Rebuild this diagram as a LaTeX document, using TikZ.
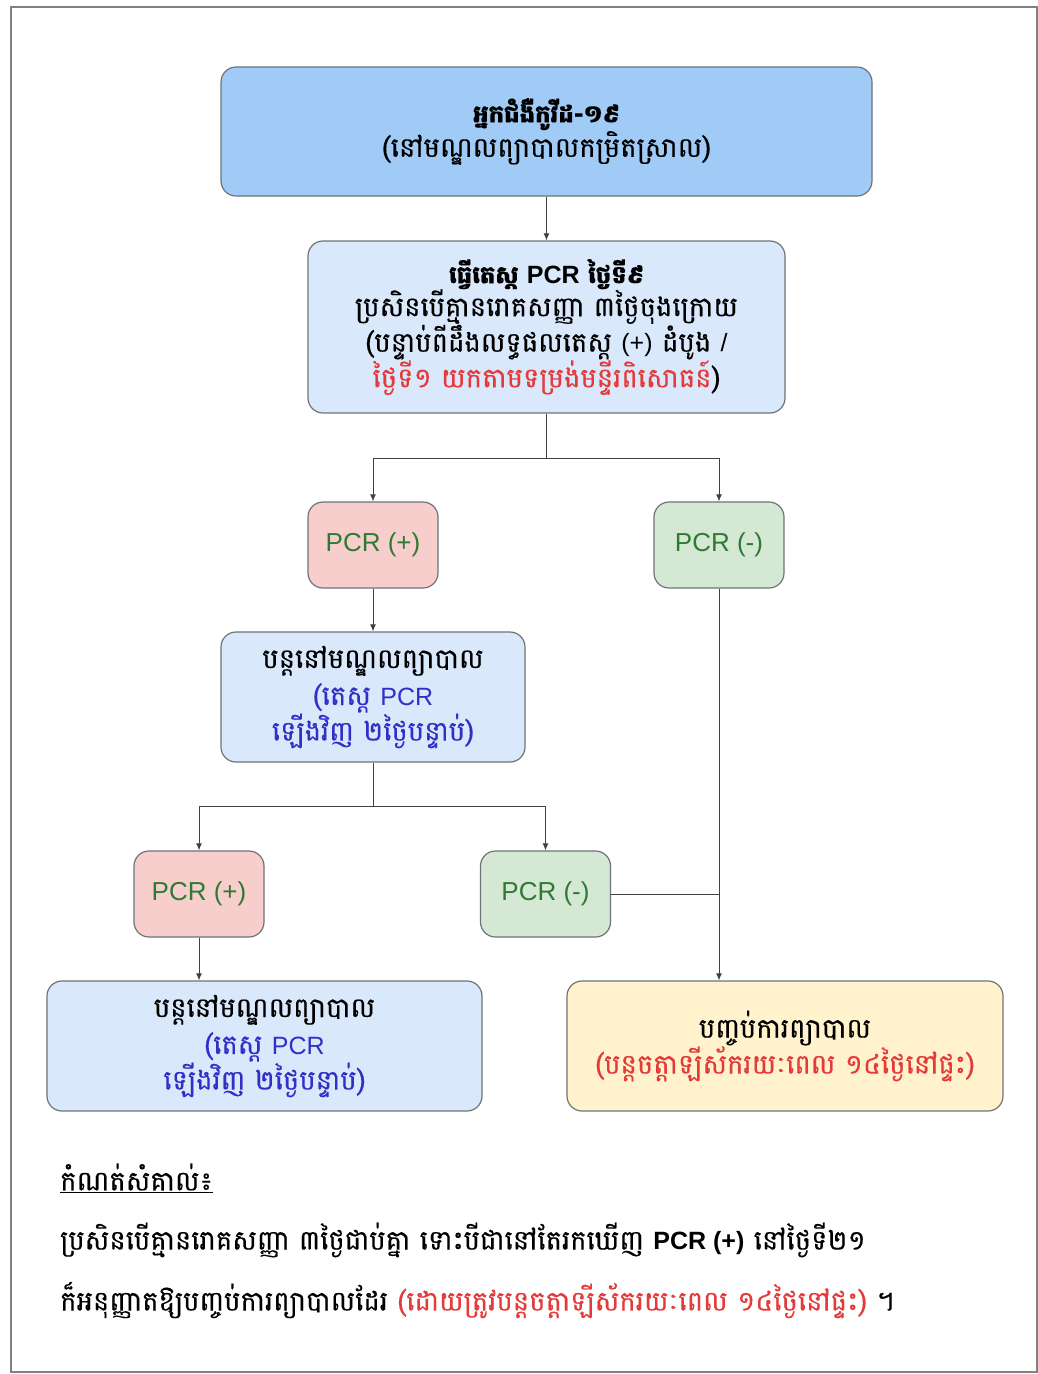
\documentclass[tikz,border=0pt]{standalone}
\usepackage{fontspec}
\setmainfont{Liberation Sans}
\newfontfamily\khmer[Script=Khmer,Scale=1.25,FakeBold=0.4]{Battambang}
\usetikzlibrary{arrows.meta}
\newcommand{\lat}[1]{{\rmfamily\fontsize{25}{33}\selectfont #1}}
\newcommand{\ttl}[1]{{\fontsize{19.5}{33}\selectfont\bfseries #1}}
\definecolor{topfill}{HTML}{9FCBF6}
\definecolor{infofill}{HTML}{DAE8FC}
\definecolor{posfill}{HTML}{F8CECC}
\definecolor{negfill}{HTML}{D5E8D4}
\definecolor{endfill}{HTML}{FFF2CC}
\definecolor{edge}{HTML}{6E7377}
\definecolor{txtblue}{HTML}{3030C8}
\definecolor{txtred}{HTML}{E53A3A}
\definecolor{txtgreen}{HTML}{2E7A34}
\tikzset{
  box/.style={draw=edge, line width=1.2pt, rounded corners=15pt, align=center,
    font=\khmer\fontsize{22}{33}\selectfont, inner sep=0pt},
  topbox/.style={box, fill=topfill, minimum width=651pt, minimum height=129pt},
  infobox/.style={box, fill=infofill},
  posbox/.style={box, fill=posfill, minimum width=130pt, minimum height=86pt,
    text=txtgreen, font=\fontsize{26}{30}\selectfont},
  negbox/.style={posbox, fill=negfill},
  endbox/.style={box, fill=endfill, minimum width=436pt, minimum height=130pt},
  arr/.style={draw=black!75, line width=1pt, -{Latex[length=7pt,width=6pt]}},
  link/.style={draw=black!75, line width=1pt},
  note/.style={anchor=west, inner sep=0pt, font=\khmer\fontsize{22}{30}\selectfont}
}
\begin{document}
\begin{tikzpicture}[x=1pt,y=-1pt]
\useasboundingbox (0,0) rectangle (1038,1374);
\draw[gray, line width=1.5pt] (11,7) rectangle (1037,1372);
% boxes
\node[topbox] (patient) at (546.5,131.5) {\ttl{អ្នកជំងឺកូវីដ-១៩}\\(នៅមណ្ឌលព្យាបាលកម្រិតស្រាល)};
\node[infobox, minimum width=477pt, minimum height=172pt] (test) at (546.5,327)
  {\ttl{ធ្វើតេស្ត \lat{\bfseries PCR} ថ្ងៃទី៩}\\ប្រសិនបើគ្មានរោគសញ្ញា ៣ថ្ងៃចុងក្រោយ\\(បន្ទាប់ពីដឹងលទ្ធផលតេស្ត \lat{(+)} ដំបូង \lat{/}\\{\color{txtred}ថ្ងៃទី១ យកតាមទម្រង់មន្ទីរពិសោធន៍})};
\node[posbox] (pos1) at (373,545) {PCR (+)};
\node[negbox] (neg1) at (719,545) {PCR (-)};
\node[infobox, minimum width=304pt, minimum height=130pt] (stay1) at (373,697)
  {បន្តនៅមណ្ឌលព្យាបាល\\[4pt]{\color{txtblue}(តេស្ត \lat{PCR}}\\{\color{txtblue}ឡើងវិញ ២ថ្ងៃបន្ទាប់)}};
\node[posbox] (pos2) at (199,894) {PCR (+)};
\node[negbox] (neg2) at (545.5,894) {PCR (-)};
\node[infobox, minimum width=435pt, minimum height=130pt] (stay2) at (264.5,1046)
  {បន្តនៅមណ្ឌលព្យាបាល\\[4pt]{\color{txtblue}(តេស្ត \lat{PCR}}\\{\color{txtblue}ឡើងវិញ ២ថ្ងៃបន្ទាប់)}};
\node[endbox] (finish) at (785,1046)
  {បញ្ចប់ការព្យាបាល\\{\color{txtred}(បន្តចត្តាឡីស័ករយៈពេល ១៤ថ្ងៃនៅផ្ទះ)}};
% connectors
\coordinate (fork1) at (546.5,458);
\coordinate (fork2) at (373,806);
\draw[arr] (patient) -- (test);
\draw[link] (test) -- (fork1);
\draw[arr] (fork1) -| (pos1);
\draw[arr] (fork1) -| (neg1);
\draw[arr] (pos1) -- (stay1);
\draw[link] (stay1) -- (fork2);
\draw[arr] (fork2) -| (pos2);
\draw[arr] (fork2) -| (neg2);
\draw[arr] (pos2.south) -- (pos2.south |- stay2.north);
\draw[arr] (neg1.south) -- (neg1.south |- finish.north);
\draw[link] (neg2.east) -- (neg2.east -| neg1.south);
% note
\node[note] (notehead) at (60,1178) {\underline{កំណត់សំគាល់៖}};
\node[note] (noteone) at (60,1240) {ប្រសិនបើគ្មានរោគសញ្ញា ៣ថ្ងៃជាប់គ្នា ទោះបីជានៅតែរកឃើញ \lat{\textbf{PCR (+)}} នៅថ្ងៃទី២១};
\node[note] (notetwo) at (60,1300) {ក៏អនុញ្ញាតឱ្យបញ្ចប់ការព្យាបាលដែរ {\color{txtred}(ដោយត្រូវបន្តចត្តាឡីស័ករយៈពេល ១៤ថ្ងៃនៅផ្ទះ)} ។};
\end{tikzpicture}
\end{document}
